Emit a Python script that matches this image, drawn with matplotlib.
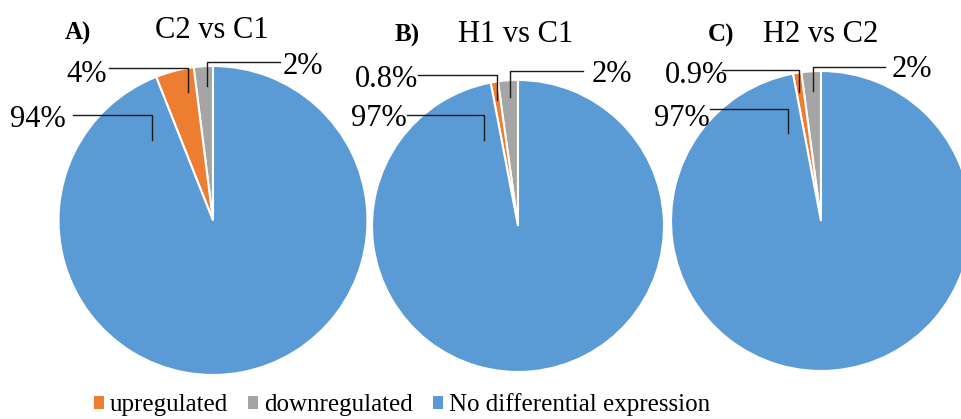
import matplotlib.pyplot as plt
from matplotlib.patches import Patch

plt.rcParams['font.family'] = ['Liberation Serif', 'DejaVu Serif']

W, H = 961, 419

categories = ['upregulated', 'downregulated', 'No differential expression']
colors = ['#ED7D31', '#A5A5A5', '#5B9BD5']

panel_tags = ['A)', 'B)', 'C)']
panel_titles = ['C2 vs C1', 'H1 vs C1', 'H2 vs C2']
upregulated = [4.0, 0.8, 0.9]
downregulated = [2.0, 2.2, 2.1]
no_diff = [94.0, 97.0, 97.0]

# layout in pixels, measured from the top-left corner
centers = [(213, 220.5), (518, 226), (821, 221)]
radii = [154.5, 146, 150]
tag_pos = [(78, 40), (407, 42), (721, 42)]
title_pos = [(212, 38), (516, 42), (821, 42)]
# (text x, baseline, ha, leader line) for up, down, no diff
label_pos = [
    [(107, 82, 'right', [(109, 68), (188, 68), (188, 92)]),
     (283, 74, 'left', [(280, 62), (207, 62), (207, 86)]),
     (66, 127, 'right', [(73, 115), (152, 115), (152, 140)])],
    [(418, 87, 'right', [(418, 75), (497, 75), (497, 100)]),
     (592, 82, 'left', [(583, 71), (510, 71), (510, 97)]),
     (407, 126, 'right', [(407, 115), (484, 115), (484, 140)])],
    [(728, 83, 'right', [(722, 70), (799, 70), (799, 92)]),
     (892, 77, 'left', [(885, 67), (813, 67), (813, 91)]),
     (710, 126, 'right', [(710, 109), (788, 109), (788, 133)])],
]


def pct(v):
    return f'{v:.1f}%' if v < 1 else f'{v:.0f}%'


fig = plt.figure(figsize=(W / 100, H / 100), dpi=100)
ax = fig.add_axes([0, 0, 1, 1])

for i in range(3):
    cx, cy = centers[i]
    # counterclockwise from 12 o'clock: down, up, no diff
    ax.pie([downregulated[i], upregulated[i], no_diff[i]],
           colors=[colors[1], colors[0], colors[2]],
           center=(cx, H - cy), radius=radii[i], startangle=90,
           counterclock=True,
           wedgeprops=dict(edgecolor='white', linewidth=1.5))

    ax.text(tag_pos[i][0], H - tag_pos[i][1], panel_tags[i], fontsize=18,
            fontweight='bold', ha='center', va='baseline')
    ax.text(title_pos[i][0], H - title_pos[i][1], panel_titles[i],
            fontsize=22, ha='center', va='baseline')

    vals = [upregulated[i], downregulated[i], no_diff[i]]
    for v, (tx, ty, ha, line) in zip(vals, label_pos[i]):
        ax.text(tx, H - ty, pct(v), fontsize=22, ha=ha, va='baseline')
        ax.plot([p[0] for p in line], [H - p[1] for p in line],
                color='#1a1a1a', lw=1)

ax.set_xlim(0, W)
ax.set_ylim(0, H)
ax.set_aspect('auto')
ax.axis('off')

handles = [Patch(facecolor=c) for c in colors]
ax.legend(handles, categories, loc='center',
          bbox_to_anchor=(402 / W, 1 - 405 / H), ncol=3, frameon=False,
          fontsize=18, handlelength=0.4, handleheight=0.4,
          handletextpad=0.25, columnspacing=0.8, borderpad=0)

fig.savefig('out.png', dpi=100)
